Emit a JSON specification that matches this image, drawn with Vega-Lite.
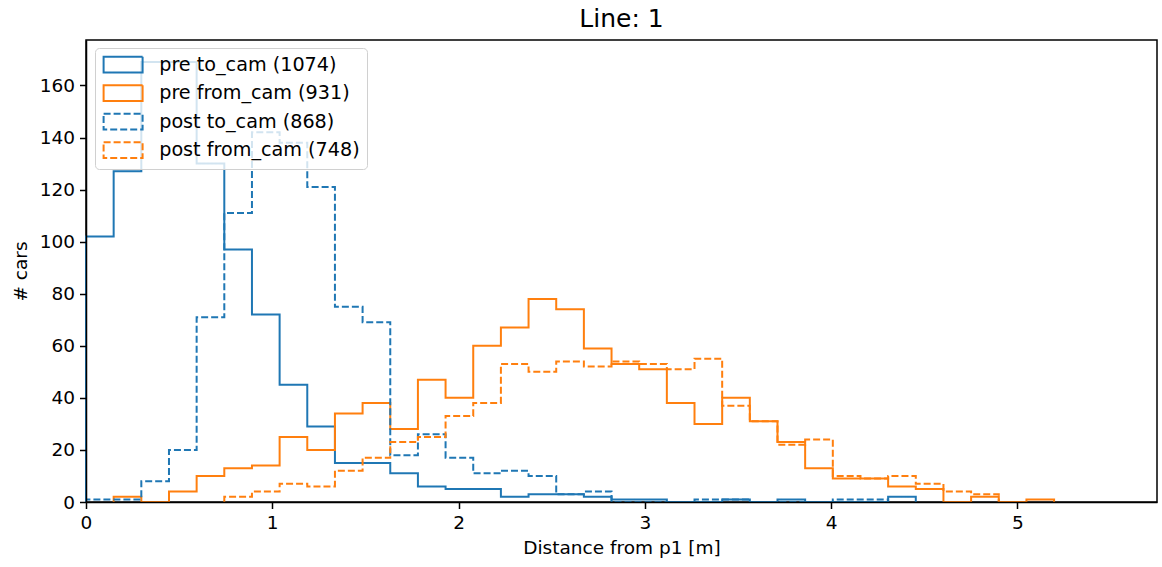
{
  "$schema": "https://vega.github.io/schema/vega-lite/v6.json",
  "width": 1071,
  "height": 462,
  "autosize": {"type": "none"},
  "padding": {"left": 86, "top": 40, "right": 5, "bottom": 65},
  "background": "white",
  "title": {"text": "Line: 1", "font": "DejaVu Sans", "fontSize": 25, "fontWeight": "normal", "color": "black", "anchor": "middle", "offset": 8},
  "config": {
    "font": "DejaVu Sans",
    "view": {"stroke": "black", "strokeWidth": 1.5}
  },
  "data": {"values": [
    {"s": "pre to_cam (1074)", "x": 0, "n": 0},
    {"s": "pre to_cam (1074)", "x": 0, "n": 102},
    {"s": "pre to_cam (1074)", "x": 0.1485, "n": 127},
    {"s": "pre to_cam (1074)", "x": 0.297, "n": 169},
    {"s": "pre to_cam (1074)", "x": 0.4455, "n": 169},
    {"s": "pre to_cam (1074)", "x": 0.594, "n": 130},
    {"s": "pre to_cam (1074)", "x": 0.7425, "n": 97},
    {"s": "pre to_cam (1074)", "x": 0.891, "n": 72},
    {"s": "pre to_cam (1074)", "x": 1.0395, "n": 45},
    {"s": "pre to_cam (1074)", "x": 1.188, "n": 29},
    {"s": "pre to_cam (1074)", "x": 1.3365, "n": 15},
    {"s": "pre to_cam (1074)", "x": 1.485, "n": 15},
    {"s": "pre to_cam (1074)", "x": 1.6335, "n": 11},
    {"s": "pre to_cam (1074)", "x": 1.782, "n": 6},
    {"s": "pre to_cam (1074)", "x": 1.9305, "n": 5},
    {"s": "pre to_cam (1074)", "x": 2.079, "n": 5},
    {"s": "pre to_cam (1074)", "x": 2.2275, "n": 2},
    {"s": "pre to_cam (1074)", "x": 2.376, "n": 3},
    {"s": "pre to_cam (1074)", "x": 2.5245, "n": 3},
    {"s": "pre to_cam (1074)", "x": 2.673, "n": 2},
    {"s": "pre to_cam (1074)", "x": 2.8215, "n": 1},
    {"s": "pre to_cam (1074)", "x": 2.97, "n": 1},
    {"s": "pre to_cam (1074)", "x": 3.1185, "n": 0},
    {"s": "pre to_cam (1074)", "x": 3.267, "n": 0},
    {"s": "pre to_cam (1074)", "x": 3.4155, "n": 1},
    {"s": "pre to_cam (1074)", "x": 3.564, "n": 0},
    {"s": "pre to_cam (1074)", "x": 3.7125, "n": 1},
    {"s": "pre to_cam (1074)", "x": 3.861, "n": 0},
    {"s": "pre to_cam (1074)", "x": 4.0095, "n": 0},
    {"s": "pre to_cam (1074)", "x": 4.158, "n": 0},
    {"s": "pre to_cam (1074)", "x": 4.3065, "n": 2},
    {"s": "pre to_cam (1074)", "x": 4.455, "n": 0},

    {"s": "pre from_cam (931)", "x": 0.1485, "n": 0},
    {"s": "pre from_cam (931)", "x": 0.1485, "n": 2},
    {"s": "pre from_cam (931)", "x": 0.297, "n": 0},
    {"s": "pre from_cam (931)", "x": 0.4455, "n": 4},
    {"s": "pre from_cam (931)", "x": 0.594, "n": 10},
    {"s": "pre from_cam (931)", "x": 0.7425, "n": 13},
    {"s": "pre from_cam (931)", "x": 0.891, "n": 14},
    {"s": "pre from_cam (931)", "x": 1.0395, "n": 25},
    {"s": "pre from_cam (931)", "x": 1.188, "n": 20},
    {"s": "pre from_cam (931)", "x": 1.3365, "n": 34},
    {"s": "pre from_cam (931)", "x": 1.485, "n": 38},
    {"s": "pre from_cam (931)", "x": 1.6335, "n": 28},
    {"s": "pre from_cam (931)", "x": 1.782, "n": 47},
    {"s": "pre from_cam (931)", "x": 1.9305, "n": 40},
    {"s": "pre from_cam (931)", "x": 2.079, "n": 60},
    {"s": "pre from_cam (931)", "x": 2.2275, "n": 67},
    {"s": "pre from_cam (931)", "x": 2.376, "n": 78},
    {"s": "pre from_cam (931)", "x": 2.5245, "n": 74},
    {"s": "pre from_cam (931)", "x": 2.673, "n": 59},
    {"s": "pre from_cam (931)", "x": 2.8215, "n": 53},
    {"s": "pre from_cam (931)", "x": 2.97, "n": 51},
    {"s": "pre from_cam (931)", "x": 3.1185, "n": 38},
    {"s": "pre from_cam (931)", "x": 3.267, "n": 30},
    {"s": "pre from_cam (931)", "x": 3.4155, "n": 40},
    {"s": "pre from_cam (931)", "x": 3.564, "n": 31},
    {"s": "pre from_cam (931)", "x": 3.7125, "n": 23},
    {"s": "pre from_cam (931)", "x": 3.861, "n": 13},
    {"s": "pre from_cam (931)", "x": 4.0095, "n": 9},
    {"s": "pre from_cam (931)", "x": 4.158, "n": 9},
    {"s": "pre from_cam (931)", "x": 4.3065, "n": 6},
    {"s": "pre from_cam (931)", "x": 4.455, "n": 5},
    {"s": "pre from_cam (931)", "x": 4.6035, "n": 0},
    {"s": "pre from_cam (931)", "x": 4.752, "n": 2},
    {"s": "pre from_cam (931)", "x": 4.9005, "n": 0},
    {"s": "pre from_cam (931)", "x": 5.049, "n": 1},
    {"s": "pre from_cam (931)", "x": 5.1975, "n": 0},

    {"s": "post to_cam (868)", "x": 0, "n": 0},
    {"s": "post to_cam (868)", "x": 0, "n": 1},
    {"s": "post to_cam (868)", "x": 0.1485, "n": 1},
    {"s": "post to_cam (868)", "x": 0.297, "n": 8},
    {"s": "post to_cam (868)", "x": 0.4455, "n": 20},
    {"s": "post to_cam (868)", "x": 0.594, "n": 71},
    {"s": "post to_cam (868)", "x": 0.7425, "n": 111},
    {"s": "post to_cam (868)", "x": 0.891, "n": 142},
    {"s": "post to_cam (868)", "x": 1.0395, "n": 138},
    {"s": "post to_cam (868)", "x": 1.188, "n": 121},
    {"s": "post to_cam (868)", "x": 1.3365, "n": 75},
    {"s": "post to_cam (868)", "x": 1.485, "n": 69},
    {"s": "post to_cam (868)", "x": 1.6335, "n": 18},
    {"s": "post to_cam (868)", "x": 1.782, "n": 26},
    {"s": "post to_cam (868)", "x": 1.9305, "n": 17},
    {"s": "post to_cam (868)", "x": 2.079, "n": 11},
    {"s": "post to_cam (868)", "x": 2.2275, "n": 12},
    {"s": "post to_cam (868)", "x": 2.376, "n": 10},
    {"s": "post to_cam (868)", "x": 2.5245, "n": 3},
    {"s": "post to_cam (868)", "x": 2.673, "n": 4},
    {"s": "post to_cam (868)", "x": 2.8215, "n": 0},
    {"s": "post to_cam (868)", "x": 2.97, "n": 0},
    {"s": "post to_cam (868)", "x": 3.1185, "n": 0},
    {"s": "post to_cam (868)", "x": 3.267, "n": 1},
    {"s": "post to_cam (868)", "x": 3.4155, "n": 1},
    {"s": "post to_cam (868)", "x": 3.564, "n": 0},
    {"s": "post to_cam (868)", "x": 3.7125, "n": 0},
    {"s": "post to_cam (868)", "x": 3.861, "n": 0},
    {"s": "post to_cam (868)", "x": 4.0095, "n": 1},
    {"s": "post to_cam (868)", "x": 4.158, "n": 1},
    {"s": "post to_cam (868)", "x": 4.3065, "n": 0},

    {"s": "post from_cam (748)", "x": 0.7425, "n": 0},
    {"s": "post from_cam (748)", "x": 0.7425, "n": 2},
    {"s": "post from_cam (748)", "x": 0.891, "n": 4},
    {"s": "post from_cam (748)", "x": 1.0395, "n": 7},
    {"s": "post from_cam (748)", "x": 1.188, "n": 6},
    {"s": "post from_cam (748)", "x": 1.3365, "n": 12},
    {"s": "post from_cam (748)", "x": 1.485, "n": 17},
    {"s": "post from_cam (748)", "x": 1.6335, "n": 23},
    {"s": "post from_cam (748)", "x": 1.782, "n": 25},
    {"s": "post from_cam (748)", "x": 1.9305, "n": 33},
    {"s": "post from_cam (748)", "x": 2.079, "n": 38},
    {"s": "post from_cam (748)", "x": 2.2275, "n": 53},
    {"s": "post from_cam (748)", "x": 2.376, "n": 50},
    {"s": "post from_cam (748)", "x": 2.5245, "n": 54},
    {"s": "post from_cam (748)", "x": 2.673, "n": 52},
    {"s": "post from_cam (748)", "x": 2.8215, "n": 54},
    {"s": "post from_cam (748)", "x": 2.97, "n": 53},
    {"s": "post from_cam (748)", "x": 3.1185, "n": 51},
    {"s": "post from_cam (748)", "x": 3.267, "n": 55},
    {"s": "post from_cam (748)", "x": 3.4155, "n": 37},
    {"s": "post from_cam (748)", "x": 3.564, "n": 31},
    {"s": "post from_cam (748)", "x": 3.7125, "n": 22},
    {"s": "post from_cam (748)", "x": 3.861, "n": 24},
    {"s": "post from_cam (748)", "x": 4.0095, "n": 10},
    {"s": "post from_cam (748)", "x": 4.158, "n": 9},
    {"s": "post from_cam (748)", "x": 4.3065, "n": 10},
    {"s": "post from_cam (748)", "x": 4.455, "n": 7},
    {"s": "post from_cam (748)", "x": 4.6035, "n": 4},
    {"s": "post from_cam (748)", "x": 4.752, "n": 3},
    {"s": "post from_cam (748)", "x": 4.9005, "n": 0}
  ]},
  "mark": {"type": "line", "interpolate": "step-after", "strokeWidth": 2},
  "encoding": {
    "x": {
      "field": "x", "type": "quantitative",
      "scale": {"domain": [0, 5.75], "nice": false, "zero": false},
      "axis": {
        "title": "Distance from p1 [m]", "values": [0, 1, 2, 3, 4, 5], "format": "d",
        "grid": false, "zindex": 1,
        "domainColor": "black", "domainWidth": 1.5,
        "tickColor": "black", "tickWidth": 1.5, "tickSize": 6.5,
        "labelFont": "DejaVu Sans", "labelFontSize": 18.5, "labelColor": "black", "labelPadding": 5,
        "labelFlush": false,
        "titleFont": "DejaVu Sans", "titleFontSize": 18.5, "titleFontWeight": "normal", "titleColor": "black", "titlePadding": 6
      }
    },
    "y": {
      "field": "n", "type": "quantitative",
      "scale": {"domain": [0, 177.45], "nice": false},
      "axis": {
        "title": "# cars", "values": [0, 20, 40, 60, 80, 100, 120, 140, 160],
        "grid": false, "zindex": 1,
        "domainColor": "black", "domainWidth": 1.5,
        "tickColor": "black", "tickWidth": 1.5, "tickSize": 6.5,
        "labelFont": "DejaVu Sans", "labelFontSize": 18.5, "labelColor": "black", "labelPadding": 5,
        "labelFlush": false,
        "titleFont": "DejaVu Sans", "titleFontSize": 18.5, "titleFontWeight": "normal", "titleColor": "black", "titlePadding": 9
      }
    },
    "color": {
      "field": "s", "type": "nominal",
      "scale": {
        "domain": ["pre to_cam (1074)", "pre from_cam (931)", "post to_cam (868)", "post from_cam (748)"],
        "range": ["#1f77b4", "#ff7f0e", "#1f77b4", "#ff7f0e"]
      },
      "legend": {
        "title": null, "orient": "none", "legendX": 9, "legendY": 8,
        "symbolType": "M-1,-0.975H3.875V0.975H-1Z", "symbolSize": 256,
        "symbolStrokeWidth": 2, "symbolFillColor": "transparent",
        "labelFont": "DejaVu Sans", "labelFontSize": 19.2, "labelColor": "black", "labelLimit": 400,
        "labelOffset": 38, "rowPadding": 3.5, "padding": 7,
        "fillColor": "rgba(255,255,255,0.8)", "strokeColor": "#d0d0d0", "cornerRadius": 4
      }
    },
    "strokeDash": {
      "field": "s", "type": "nominal",
      "scale": {
        "domain": ["pre to_cam (1074)", "pre from_cam (931)", "post to_cam (868)", "post from_cam (748)"],
        "range": [[1, 0], [1, 0], [7, 3], [7, 3]]
      },
      "legend": {
        "title": null, "orient": "none", "legendX": 9, "legendY": 8,
        "symbolType": "M-1,-0.975H3.875V0.975H-1Z", "symbolSize": 256,
        "symbolStrokeWidth": 2, "symbolFillColor": "transparent",
        "labelFont": "DejaVu Sans", "labelFontSize": 19.2, "labelColor": "black", "labelLimit": 400,
        "labelOffset": 38, "rowPadding": 3.5, "padding": 7,
        "fillColor": "rgba(255,255,255,0.8)", "strokeColor": "#d0d0d0", "cornerRadius": 4
      }
    },
    "order": {"value": null}
  }
}
